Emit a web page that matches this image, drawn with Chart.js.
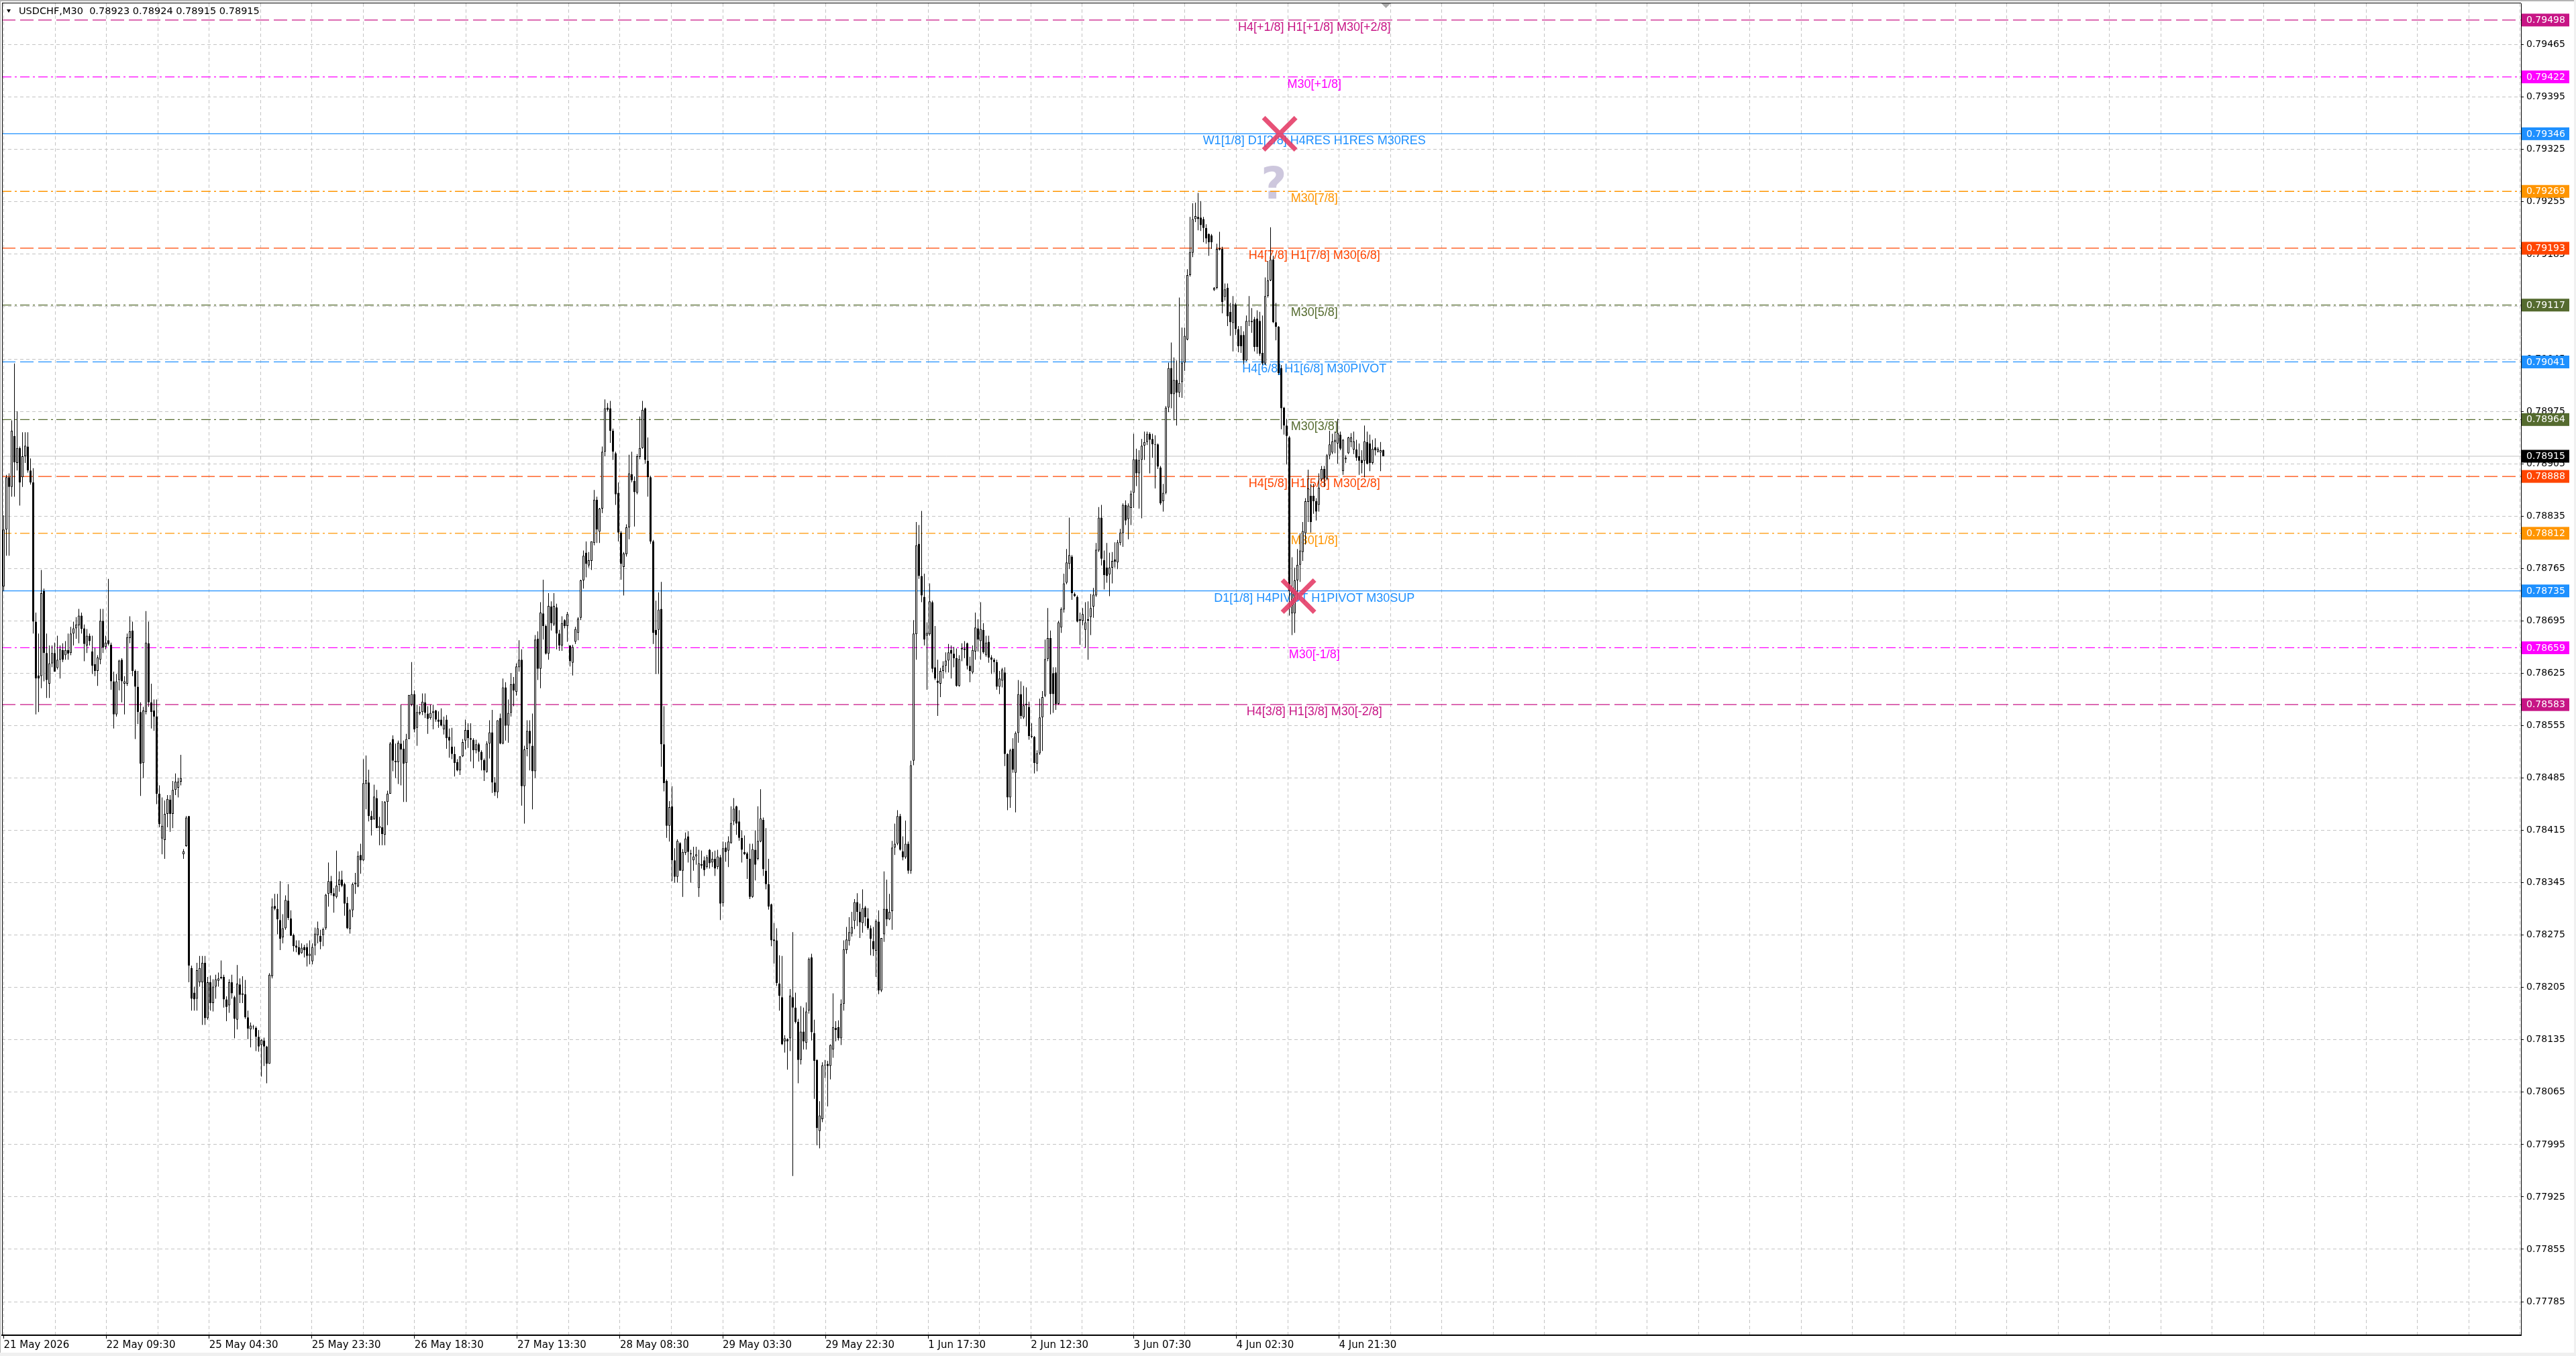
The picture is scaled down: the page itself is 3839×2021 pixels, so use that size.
<!DOCTYPE html>
<html lang="en">
<head>
<meta charset="UTF-8">
<title>USDCHF,M30</title>
<script src="https://cdn.jsdelivr.net/npm/chart.js"></script>
<style>
  html, body { margin: 0; padding: 0; background: #fff; overflow: hidden; }
  #wrap { position: relative; width: 3839px; height: 2021px; }
</style>
</head>
<body>
<div id="wrap"><canvas id="chart" width="3839" height="2021"></canvas></div>
<script>
// USDCHF M30 candles, one entry per bar (bar 0 = 21 May 2026 14:30)
const opens = [
  0.78741,0.78817,0.78887,0.78874,0.78942,0.78906,0.78926,0.78887,0.78915,0.78928,
  0.78896,0.78880,0.78694,0.78622,0.78621,0.78735,0.78652,0.78611,0.78638,0.78652,
  0.78632,0.78643,0.78656,0.78649,0.78656,0.78652,0.78678,0.78685,0.78689,0.78702,
  0.78685,0.78662,0.78675,0.78654,0.78637,0.78628,0.78643,0.78695,0.78660,0.78669,
  0.78663,0.78614,0.78570,0.78616,0.78643,0.78611,0.78611,0.78672,0.78682,0.78628,
  0.78607,0.78573,0.78505,0.78573,0.78665,0.78586,0.78575,0.78567,0.78464,0.78404,
  0.78402,0.78437,0.78456,0.78437,0.78469,0.78472,0.78480,0.78383,0.78394,0.78434,
  0.78231,0.78198,0.78190,0.78212,0.78212,0.78238,0.78164,0.78212,0.78184,0.78206,
  0.78214,0.78217,0.78219,0.78189,0.78181,0.78212,0.78192,0.78162,0.78209,0.78195,
  0.78196,0.78165,0.78149,0.78152,0.78151,0.78139,0.78128,0.78134,0.78126,0.78103,
  0.78220,0.78314,0.78310,0.78295,0.78272,0.78284,0.78321,0.78297,0.78275,0.78261,
  0.78259,0.78251,0.78259,0.78259,0.78247,0.78240,0.78261,0.78275,0.78274,0.78275,
  0.78284,0.78330,0.78347,0.78331,0.78326,0.78342,0.78349,0.78343,0.78318,0.78283,
  0.78308,0.78343,0.78340,0.78382,0.78375,0.78477,0.78479,0.78434,0.78430,0.78458,
  0.78418,0.78419,0.78409,0.78453,0.78464,0.78537,0.78506,0.78506,0.78531,0.78524,
  0.78505,0.78537,0.78583,0.78597,0.78552,0.78571,0.78573,0.78586,0.78571,0.78565,
  0.78572,0.78575,0.78563,0.78563,0.78550,0.78563,0.78540,0.78527,0.78517,0.78506,
  0.78495,0.78514,0.78535,0.78549,0.78538,0.78536,0.78522,0.78530,0.78520,0.78509,
  0.78493,0.78531,0.78546,0.78479,0.78466,0.78565,0.78531,0.78606,0.78555,0.78572,
  0.78611,0.78600,0.78633,0.78643,0.78474,0.78524,0.78548,0.78528,0.78494,0.78671,
  0.78631,0.78705,0.78688,0.78651,0.78714,0.78690,0.78713,0.78678,0.78662,0.78696,
  0.78688,0.78662,0.78639,0.78667,0.78679,0.78699,0.78749,0.78786,0.78769,0.78775,
  0.78799,0.78857,0.78814,0.78845,0.78921,0.78980,0.78979,0.78949,0.78919,0.78866,
  0.78813,0.78767,0.78784,0.78820,0.78891,0.78882,0.78866,0.78914,0.78926,0.78979,
  0.78909,0.78887,0.78801,0.78683,0.78683,0.78711,0.78530,0.78481,0.78421,0.78447,
  0.78375,0.78353,0.78398,0.78361,0.78385,0.78407,0.78384,0.78375,0.78380,0.78338,
  0.78368,0.78375,0.78366,0.78389,0.78372,0.78377,0.78366,0.78379,0.78318,0.78392,
  0.78388,0.78398,0.78427,0.78447,0.78427,0.78405,0.78386,0.78384,0.78377,0.78326,
  0.78389,0.78377,0.78400,0.78429,0.78361,0.78343,0.78316,0.78269,0.78268,0.78210,
  0.78192,0.78133,0.78136,0.78137,0.78192,0.78178,0.78159,0.78108,0.78146,0.78131,
  0.78174,0.78245,0.78144,0.78108,0.78013,0.78029,0.78101,0.78103,0.78100,0.78122,
  0.78151,0.78152,0.78137,0.78183,0.78255,0.78267,0.78277,0.78294,0.78319,0.78306,
  0.78291,0.78312,0.78297,0.78284,0.78267,0.78254,0.78293,0.78201,0.78276,0.78310,
  0.78296,0.78307,0.78392,0.78397,0.78434,0.78387,0.78379,0.78397,0.78361,0.78508,
  0.78677,0.78798,0.78755,0.78727,0.78675,0.78677,0.78720,0.78633,0.78615,0.78611,
  0.78628,0.78635,0.78642,0.78656,0.78651,0.78645,0.78608,0.78657,0.78658,0.78665,
  0.78635,0.78626,0.78654,0.78685,0.78668,0.78683,0.78649,0.78667,0.78646,0.78643,
  0.78640,0.78607,0.78615,0.78626,0.78517,0.78459,0.78524,0.78492,0.78545,0.78597,
  0.78566,0.78582,0.78580,0.78541,0.78540,0.78504,0.78518,0.78566,0.78595,0.78644,
  0.78672,0.78625,0.78626,0.78584,0.78686,0.78710,0.78746,0.78771,0.78781,0.78731,
  0.78727,0.78697,0.78695,0.78683,0.78697,0.78700,0.78714,0.78729,0.78789,0.78833,
  0.78776,0.78766,0.78757,0.78766,0.78777,0.78773,0.78799,0.78812,0.78850,0.78831,
  0.78846,0.78866,0.78911,0.78892,0.78910,0.78929,0.78934,0.78945,0.78938,0.78931,
  0.78931,0.78900,0.78855,0.78866,0.78980,0.79033,0.78998,0.79017,0.79000,0.79014,
  0.79040,0.79071,0.79157,0.79187,0.79232,0.79235,0.79234,0.79232,0.79220,0.79212,
  0.79210,0.79137,0.79140,0.79191,0.79192,0.79128,0.79140,0.79108,0.79093,0.79118,
  0.79085,0.79077,0.79077,0.79043,0.79095,0.79094,0.79098,0.79099,0.79096,0.79053,
  0.79039,0.79129,0.79150,0.79178,0.79094,0.79088,0.79033,0.78980,0.78956,0.78940,
  0.78705,0.78705,0.78749,0.78770,0.78787,0.78812,0.78854,0.78862,0.78862,0.78855,
  0.78850,0.78884,0.78898,0.78885,0.78916,0.78920,0.78934,0.78932,0.78944,0.78895,
  0.78911,0.78919,0.78934,0.78924,0.78924,0.78915,0.78910,0.78909,0.78934,0.78932,
  0.78906,0.78927,0.78921,0.78920,0.78923
];
const highs = [
  0.78836,0.78890,0.78892,0.78963,0.79039,0.78975,0.78928,0.78947,0.78947,0.78947,
  0.78912,0.78899,0.78706,0.78678,0.78763,0.78738,0.78678,0.78662,0.78662,0.78666,
  0.78675,0.78662,0.78665,0.78668,0.78678,0.78687,0.78694,0.78700,0.78711,0.78706,
  0.78690,0.78684,0.78678,0.78675,0.78659,0.78649,0.78711,0.78711,0.78675,0.78751,
  0.78666,0.78627,0.78624,0.78643,0.78645,0.78621,0.78678,0.78701,0.78694,0.78630,
  0.78628,0.78586,0.78580,0.78708,0.78694,0.78611,0.78590,0.78590,0.78475,0.78459,
  0.78455,0.78462,0.78462,0.78481,0.78491,0.78485,0.78516,0.78390,0.78434,0.78434,
  0.78234,0.78206,0.78238,0.78247,0.78247,0.78247,0.78219,0.78221,0.78216,0.78222,
  0.78225,0.78241,0.78222,0.78193,0.78216,0.78222,0.78194,0.78235,0.78217,0.78220,
  0.78215,0.78174,0.78158,0.78155,0.78153,0.78148,0.78136,0.78138,0.78127,0.78224,
  0.78324,0.78330,0.78330,0.78347,0.78303,0.78328,0.78343,0.78308,0.78277,0.78268,
  0.78268,0.78264,0.78262,0.78264,0.78268,0.78264,0.78285,0.78293,0.78282,0.78285,
  0.78330,0.78372,0.78354,0.78338,0.78388,0.78360,0.78361,0.78345,0.78326,0.78310,
  0.78345,0.78358,0.78387,0.78397,0.78510,0.78515,0.78496,0.78441,0.78476,0.78469,
  0.78433,0.78454,0.78454,0.78468,0.78533,0.78542,0.78531,0.78535,0.78583,0.78535,
  0.78544,0.78596,0.78640,0.78602,0.78583,0.78581,0.78598,0.78598,0.78581,0.78583,
  0.78583,0.78576,0.78574,0.78578,0.78567,0.78569,0.78551,0.78552,0.78527,0.78510,
  0.78514,0.78537,0.78563,0.78558,0.78558,0.78538,0.78536,0.78532,0.78522,0.78511,
  0.78534,0.78562,0.78576,0.78486,0.78562,0.78571,0.78618,0.78613,0.78590,0.78625,
  0.78620,0.78638,0.78669,0.78657,0.78528,0.78562,0.78562,0.78571,0.78676,0.78681,
  0.78720,0.78750,0.78690,0.78732,0.78721,0.78732,0.78718,0.78683,0.78701,0.78697,
  0.78707,0.78662,0.78663,0.78687,0.78700,0.78750,0.78789,0.78801,0.78787,0.78801,
  0.78870,0.78861,0.78846,0.78928,0.78991,0.78986,0.78989,0.78952,0.78921,0.78880,
  0.78815,0.78787,0.78824,0.78917,0.78921,0.78888,0.78918,0.78968,0.78989,0.78980,
  0.78940,0.78889,0.78803,0.78722,0.78733,0.78747,0.78581,0.78483,0.78454,0.78474,
  0.78391,0.78403,0.78399,0.78390,0.78412,0.78414,0.78389,0.78393,0.78393,0.78389,
  0.78388,0.78380,0.78382,0.78390,0.78386,0.78388,0.78389,0.78382,0.78400,0.78399,
  0.78407,0.78447,0.78458,0.78448,0.78442,0.78415,0.78408,0.78386,0.78397,0.78397,
  0.78415,0.78447,0.78470,0.78432,0.78418,0.78377,0.78317,0.78291,0.78284,0.78248,
  0.78247,0.78141,0.78137,0.78203,0.78279,0.78198,0.78163,0.78180,0.78178,0.78185,
  0.78245,0.78250,0.78162,0.78109,0.78053,0.78105,0.78108,0.78107,0.78129,0.78197,
  0.78160,0.78161,0.78189,0.78268,0.78286,0.78299,0.78306,0.78323,0.78331,0.78317,
  0.78336,0.78314,0.78311,0.78288,0.78286,0.78296,0.78308,0.78271,0.78360,0.78349,
  0.78330,0.78401,0.78424,0.78442,0.78437,0.78407,0.78428,0.78400,0.78508,0.78696,
  0.78827,0.78823,0.78842,0.78758,0.78693,0.78745,0.78722,0.78688,0.78643,0.78632,
  0.78641,0.78653,0.78664,0.78662,0.78660,0.78658,0.78649,0.78665,0.78668,0.78666,
  0.78647,0.78662,0.78706,0.78697,0.78720,0.78692,0.78675,0.78675,0.78649,0.78645,
  0.78643,0.78628,0.78632,0.78633,0.78518,0.78524,0.78538,0.78547,0.78616,0.78614,
  0.78608,0.78606,0.78587,0.78558,0.78541,0.78522,0.78591,0.78601,0.78670,0.78712,
  0.78682,0.78633,0.78633,0.78695,0.78713,0.78758,0.78791,0.78833,0.78783,0.78733,
  0.78729,0.78706,0.78712,0.78720,0.78721,0.78731,0.78739,0.78799,0.78847,0.78850,
  0.78789,0.78799,0.78786,0.78787,0.78800,0.78803,0.78818,0.78852,0.78856,0.78852,
  0.78869,0.78945,0.78925,0.78923,0.78938,0.78948,0.78948,0.78947,0.78945,0.78943,
  0.78932,0.78902,0.78878,0.78982,0.79040,0.79067,0.79047,0.79043,0.79127,0.79087,
  0.79087,0.79165,0.79235,0.79253,0.79254,0.79267,0.79256,0.79235,0.79225,0.79213,
  0.79212,0.79141,0.79199,0.79215,0.79195,0.79146,0.79146,0.79120,0.79129,0.79120,
  0.79089,0.79089,0.79082,0.79103,0.79129,0.79113,0.79101,0.79110,0.79108,0.79103,
  0.79154,0.79176,0.79221,0.79183,0.79120,0.79089,0.79037,0.78981,0.78965,0.78942,
  0.78780,0.78766,0.78791,0.78812,0.78827,0.78859,0.78897,0.78878,0.78878,0.78859,
  0.78892,0.78902,0.78902,0.78918,0.78949,0.78945,0.78948,0.78965,0.78948,0.78938,
  0.78916,0.78941,0.78946,0.78948,0.78937,0.78932,0.78923,0.78956,0.78948,0.78944,
  0.78937,0.78939,0.78927,0.78934,0.78924
];
const lows = [
  0.78735,0.78782,0.78782,0.78861,0.78861,0.78896,0.78849,0.78874,0.78906,0.78893,
  0.78877,0.78678,0.78570,0.78573,0.78605,0.78614,0.78592,0.78592,0.78633,0.78627,
  0.78630,0.78618,0.78640,0.78643,0.78643,0.78649,0.78662,0.78671,0.78665,0.78678,
  0.78641,0.78652,0.78662,0.78624,0.78621,0.78608,0.78637,0.78652,0.78657,0.78662,
  0.78603,0.78551,0.78567,0.78602,0.78586,0.78570,0.78608,0.78665,0.78621,0.78537,
  0.78557,0.78461,0.78485,0.78570,0.78580,0.78551,0.78548,0.78450,0.78419,0.78383,
  0.78377,0.78419,0.78413,0.78418,0.78462,0.78459,0.78475,0.78377,0.78393,0.78212,
  0.78174,0.78174,0.78174,0.78206,0.78155,0.78155,0.78162,0.78174,0.78173,0.78190,
  0.78206,0.78216,0.78178,0.78160,0.78171,0.78190,0.78137,0.78149,0.78184,0.78184,
  0.78163,0.78136,0.78125,0.78149,0.78120,0.78119,0.78086,0.78100,0.78077,0.78103,
  0.78217,0.78308,0.78276,0.78255,0.78264,0.78282,0.78295,0.78274,0.78253,0.78252,
  0.78248,0.78250,0.78245,0.78233,0.78236,0.78236,0.78248,0.78264,0.78256,0.78260,
  0.78282,0.78313,0.78328,0.78305,0.78324,0.78333,0.78339,0.78301,0.78283,0.78277,
  0.78299,0.78330,0.78339,0.78357,0.78374,0.78443,0.78427,0.78408,0.78429,0.78418,
  0.78395,0.78395,0.78395,0.78422,0.78464,0.78494,0.78485,0.78477,0.78475,0.78453,
  0.78453,0.78537,0.78581,0.78546,0.78528,0.78569,0.78569,0.78565,0.78544,0.78563,
  0.78550,0.78560,0.78552,0.78554,0.78543,0.78524,0.78512,0.78510,0.78487,0.78494,
  0.78489,0.78513,0.78523,0.78525,0.78507,0.78498,0.78518,0.78507,0.78495,0.78481,
  0.78492,0.78511,0.78465,0.78461,0.78458,0.78530,0.78530,0.78535,0.78532,0.78567,
  0.78581,0.78595,0.78627,0.78448,0.78424,0.78514,0.78495,0.78443,0.78485,0.78616,
  0.78605,0.78670,0.78650,0.78643,0.78682,0.78688,0.78657,0.78655,0.78655,0.78685,
  0.78667,0.78634,0.78622,0.78664,0.78669,0.78696,0.78738,0.78753,0.78766,0.78763,
  0.78796,0.78799,0.78799,0.78839,0.78915,0.78975,0.78933,0.78910,0.78850,0.78801,
  0.78750,0.78729,0.78781,0.78804,0.78880,0.78821,0.78864,0.78911,0.78925,0.78905,
  0.78861,0.78798,0.78664,0.78624,0.78624,0.78500,0.78467,0.78405,0.78400,0.78347,
  0.78345,0.78345,0.78361,0.78326,0.78382,0.78372,0.78345,0.78361,0.78369,0.78326,
  0.78364,0.78354,0.78364,0.78364,0.78366,0.78354,0.78363,0.78295,0.78313,0.78373,
  0.78366,0.78397,0.78422,0.78409,0.78401,0.78372,0.78382,0.78350,0.78323,0.78325,
  0.78348,0.78375,0.78399,0.78354,0.78336,0.78309,0.78260,0.78237,0.78207,0.78174,
  0.78128,0.78118,0.78095,0.78120,0.77953,0.78157,0.78077,0.78102,0.78122,0.78122,
  0.78170,0.78134,0.78056,0.77994,0.77990,0.78025,0.78084,0.78046,0.78082,0.78111,
  0.78133,0.78134,0.78128,0.78174,0.78250,0.78261,0.78273,0.78283,0.78287,0.78271,
  0.78278,0.78287,0.78282,0.78248,0.78247,0.78219,0.78196,0.78199,0.78266,0.78287,
  0.78295,0.78282,0.78382,0.78395,0.78388,0.78375,0.78377,0.78357,0.78357,0.78502,
  0.78643,0.78751,0.78720,0.78662,0.78603,0.78675,0.78626,0.78616,0.78568,0.78593,
  0.78618,0.78626,0.78626,0.78618,0.78633,0.78607,0.78607,0.78641,0.78645,0.78630,
  0.78613,0.78624,0.78643,0.78654,0.78643,0.78651,0.78647,0.78639,0.78624,0.78626,
  0.78603,0.78597,0.78606,0.78501,0.78442,0.78445,0.78492,0.78439,0.78532,0.78564,
  0.78564,0.78554,0.78536,0.78538,0.78491,0.78494,0.78516,0.78521,0.78593,0.78641,
  0.78570,0.78572,0.78576,0.78583,0.78679,0.78706,0.78744,0.78764,0.78723,0.78727,
  0.78693,0.78663,0.78689,0.78659,0.78643,0.78676,0.78699,0.78727,0.78787,0.78769,
  0.78737,0.78746,0.78728,0.78745,0.78766,0.78764,0.78796,0.78794,0.78823,0.78804,
  0.78823,0.78846,0.78875,0.78845,0.78832,0.78910,0.78930,0.78892,0.78913,0.78872,
  0.78898,0.78850,0.78841,0.78864,0.78974,0.78979,0.78963,0.78956,0.78994,0.78993,
  0.79029,0.79070,0.79155,0.79181,0.79228,0.79217,0.79216,0.79201,0.79199,0.79183,
  0.79192,0.79136,0.79138,0.79190,0.79106,0.79123,0.79089,0.79076,0.79055,0.79077,
  0.79054,0.79053,0.79038,0.79042,0.79089,0.79080,0.79055,0.79052,0.79049,0.79037,
  0.79037,0.79127,0.79149,0.79093,0.79070,0.79024,0.78951,0.78944,0.78904,0.78702,
  0.78676,0.78679,0.78723,0.78747,0.78775,0.78797,0.78827,0.78813,0.78838,0.78829,
  0.78841,0.78882,0.78874,0.78883,0.78911,0.78918,0.78919,0.78905,0.78923,0.78890,
  0.78906,0.78918,0.78927,0.78918,0.78909,0.78890,0.78892,0.78887,0.78904,0.78895,
  0.78904,0.78916,0.78920,0.78895,0.78915
];
const closes = [
  0.78817,0.78887,0.78874,0.78949,0.78907,0.78926,0.78880,0.78915,0.78929,0.78896,
  0.78880,0.78694,0.78618,0.78618,0.78732,0.78652,0.78616,0.78638,0.78652,0.78627,
  0.78643,0.78657,0.78643,0.78656,0.78651,0.78678,0.78685,0.78690,0.78702,0.78684,
  0.78664,0.78675,0.78668,0.78635,0.78628,0.78646,0.78695,0.78659,0.78666,0.78664,
  0.78614,0.78570,0.78614,0.78642,0.78614,0.78614,0.78673,0.78681,0.78628,0.78607,
  0.78573,0.78504,0.78575,0.78666,0.78586,0.78573,0.78567,0.78464,0.78423,0.78421,
  0.78437,0.78457,0.78437,0.78469,0.78480,0.78480,0.78485,0.78387,0.78432,0.78234,
  0.78190,0.78189,0.78228,0.78231,0.78238,0.78164,0.78212,0.78184,0.78206,0.78216,
  0.78217,0.78219,0.78189,0.78179,0.78212,0.78197,0.78163,0.78210,0.78195,0.78197,
  0.78165,0.78150,0.78154,0.78152,0.78139,0.78126,0.78135,0.78126,0.78103,0.78222,
  0.78313,0.78310,0.78296,0.78270,0.78284,0.78322,0.78298,0.78274,0.78260,0.78258,
  0.78249,0.78258,0.78255,0.78247,0.78250,0.78259,0.78277,0.78284,0.78266,0.78283,
  0.78329,0.78347,0.78331,0.78327,0.78341,0.78349,0.78341,0.78317,0.78284,0.78308,
  0.78343,0.78345,0.78381,0.78375,0.78478,0.78482,0.78434,0.78429,0.78460,0.78418,
  0.78421,0.78410,0.78453,0.78464,0.78531,0.78508,0.78508,0.78532,0.78523,0.78504,
  0.78537,0.78596,0.78597,0.78550,0.78573,0.78573,0.78587,0.78572,0.78564,0.78572,
  0.78574,0.78563,0.78560,0.78555,0.78556,0.78538,0.78535,0.78517,0.78505,0.78495,
  0.78514,0.78533,0.78549,0.78538,0.78536,0.78522,0.78530,0.78520,0.78509,0.78495,
  0.78531,0.78546,0.78479,0.78466,0.78562,0.78531,0.78606,0.78555,0.78572,0.78610,
  0.78602,0.78634,0.78643,0.78474,0.78523,0.78548,0.78531,0.78494,0.78670,0.78631,
  0.78706,0.78688,0.78651,0.78715,0.78692,0.78715,0.78678,0.78662,0.78692,0.78688,
  0.78704,0.78641,0.78660,0.78684,0.78698,0.78749,0.78782,0.78771,0.78776,0.78801,
  0.78857,0.78817,0.78845,0.78921,0.78979,0.78977,0.78949,0.78921,0.78864,0.78813,
  0.78771,0.78785,0.78820,0.78892,0.78883,0.78867,0.78915,0.78926,0.78977,0.78910,
  0.78887,0.78801,0.78679,0.78676,0.78710,0.78530,0.78478,0.78421,0.78446,0.78375,
  0.78353,0.78401,0.78361,0.78386,0.78404,0.78386,0.78383,0.78380,0.78383,0.78371,
  0.78370,0.78362,0.78379,0.78371,0.78377,0.78364,0.78380,0.78317,0.78391,0.78386,
  0.78400,0.78425,0.78444,0.78424,0.78405,0.78389,0.78383,0.78377,0.78326,0.78390,
  0.78369,0.78401,0.78431,0.78363,0.78343,0.78313,0.78268,0.78267,0.78211,0.78194,
  0.78129,0.78137,0.78133,0.78194,0.78178,0.78159,0.78108,0.78146,0.78133,0.78173,
  0.78243,0.78145,0.78107,0.78017,0.78034,0.78101,0.78101,0.78100,0.78128,0.78152,
  0.78148,0.78137,0.78183,0.78256,0.78269,0.78279,0.78286,0.78319,0.78306,0.78292,
  0.78311,0.78299,0.78284,0.78270,0.78256,0.78294,0.78201,0.78271,0.78310,0.78296,
  0.78306,0.78392,0.78397,0.78434,0.78389,0.78379,0.78397,0.78361,0.78502,0.78678,
  0.78796,0.78755,0.78729,0.78670,0.78679,0.78721,0.78631,0.78618,0.78612,0.78628,
  0.78635,0.78642,0.78653,0.78651,0.78645,0.78608,0.78644,0.78659,0.78656,0.78635,
  0.78628,0.78656,0.78686,0.78670,0.78684,0.78653,0.78666,0.78646,0.78643,0.78640,
  0.78607,0.78618,0.78630,0.78517,0.78459,0.78522,0.78496,0.78545,0.78597,0.78568,
  0.78582,0.78584,0.78541,0.78540,0.78505,0.78518,0.78566,0.78593,0.78644,0.78672,
  0.78597,0.78597,0.78584,0.78693,0.78711,0.78745,0.78773,0.78783,0.78732,0.78728,
  0.78694,0.78695,0.78704,0.78693,0.78695,0.78712,0.78730,0.78790,0.78833,0.78778,
  0.78756,0.78755,0.78766,0.78775,0.78774,0.78800,0.78813,0.78850,0.78829,0.78849,
  0.78865,0.78911,0.78892,0.78910,0.78929,0.78934,0.78945,0.78937,0.78931,0.78930,
  0.78901,0.78852,0.78866,0.78980,0.79033,0.78998,0.79017,0.79000,0.79013,0.79040,
  0.79076,0.79157,0.79188,0.79232,0.79236,0.79232,0.79224,0.79220,0.79206,0.79201,
  0.79201,0.79140,0.79192,0.79193,0.79121,0.79138,0.79102,0.79094,0.79118,0.79085,
  0.79062,0.79062,0.79043,0.79096,0.79096,0.79096,0.79061,0.79061,0.79052,0.79039,
  0.79129,0.79150,0.79178,0.79094,0.79088,0.79026,0.78979,0.78956,0.78942,0.78735,
  0.78735,0.78749,0.78770,0.78789,0.78815,0.78855,0.78872,0.78827,0.78855,0.78841,
  0.78873,0.78898,0.78885,0.78916,0.78931,0.78935,0.78937,0.78946,0.78925,0.78937,
  0.78913,0.78940,0.78940,0.78935,0.78913,0.78909,0.78906,0.78935,0.78905,0.78906,
  0.78925,0.78923,0.78925,0.78923,0.78915
];

// time axis labels, one every other grid line
const xLabels = ['21 May 2026', '22 May 09:30', '25 May 04:30', '25 May 23:30', '26 May 18:30',
  '27 May 13:30', '28 May 08:30', '29 May 03:30', '29 May 22:30', '1 Jun 17:30',
  '2 Jun 12:30', '3 Jun 07:30', '4 Jun 02:30', '4 Jun 21:30'];

// price axis labels
const yTicks = [0.79465, 0.79395, 0.79325, 0.79255, 0.79185, 0.79115, 0.79045, 0.78975,
  0.78905, 0.78835, 0.78765, 0.78695, 0.78625, 0.78555, 0.78485, 0.78415, 0.78345,
  0.78275, 0.78205, 0.78135, 0.78065, 0.77995, 0.77925, 0.77855, 0.77785];

// murrey math levels
const levelPrices = [0.79498, 0.79422, 0.79346, 0.79269, 0.79193, 0.79117, 0.79041,
  0.78964, 0.78888, 0.78812, 0.78735, 0.78659, 0.78583];
const levelNames = ['H4[+1/8] H1[+1/8] M30[+2/8]', 'M30[+1/8]', 'W1[1/8] D1[2/8] H4RES H1RES M30RES',
  'M30[7/8]', 'H4[7/8] H1[7/8] M30[6/8]', 'M30[5/8]', 'H4[6/8] H1[6/8] M30PIVOT', 'M30[3/8]',
  'H4[5/8] H1[5/8] M30[2/8]', 'M30[1/8]', 'D1[1/8] H4PIVOT H1PIVOT M30SUP', 'M30[-1/8]',
  'H4[3/8] H1[3/8] M30[-2/8]'];

// objects on the chart (bar index, price)
const crossBars = [475.4, 482.4];
const crossPrices = [0.79346, 0.78728];
const questionBar = 473.2;
const questionPrice = 0.79275;
const labelBar = 488.3;

// ---- styles ----
const DASH = [20, 7];
const DASHDOT = [14, 5, 3, 5];
const SOLID = [];
const levelStyles = [
  {color: '#C71585', dash: DASH},
  {color: '#FF00FF', dash: DASHDOT},
  {color: '#1E90FF', dash: SOLID},
  {color: '#FF9500', dash: DASHDOT},
  {color: '#FF4500', dash: DASH},
  {color: '#556B2F', dash: DASHDOT},
  {color: '#1E90FF', dash: DASH},
  {color: '#556B2F', dash: DASHDOT},
  {color: '#FF4500', dash: DASH},
  {color: '#FF9500', dash: DASHDOT},
  {color: '#1E90FF', dash: SOLID},
  {color: '#FF00FF', dash: DASHDOT},
  {color: '#C71585', dash: DASH}
];

const N = closes.length;
const X_MIN = -0.625, X_MAX = 937.875;
const Y_MIN = 0.777402, Y_MAX = 0.795203;
const GRID_STEP = 19.135;   // bars between vertical grid lines
const AXIS_FONT = {family: 'DejaVu Sans', size: 14};
const last = N - 1;
const curPrice = closes[last];

const wicks = closes.map((c, i) => ({x: i, y: [lows[i], highs[i]]}));
const bodies = closes.map((c, i) => ({x: i, y: [Math.min(opens[i], c), Math.max(opens[i], c)]}));

const levelSets = levelPrices.map((p, i) => ({
  type: 'line',
  data: [{x: X_MIN, y: p}, {x: X_MAX, y: p}],
  borderColor: levelStyles[i].color,
  borderWidth: 1.3,
  borderDash: levelStyles[i].dash,
  pointRadius: 0,
  order: 5
}));

const overlay = {
  id: 'overlay',
  beforeDatasetsDraw(chart) {
    const {ctx, scales: {x, y}} = chart;
    ctx.save();
    ctx.font = '18px "Liberation Sans", Arial, sans-serif';
    ctx.textAlign = 'center';
    ctx.textBaseline = 'middle';
    const cx = x.getPixelForValue(labelBar);
    levelPrices.forEach((p, i) => {
      ctx.fillStyle = levelStyles[i].color;
      ctx.fillText(levelNames[i], cx, y.getPixelForValue(p) + 11);
    });
    ctx.font = 'bold 66px "DejaVu Sans"';
    ctx.fillStyle = '#cdc7dd';
    ctx.fillText('?', x.getPixelForValue(questionBar), y.getPixelForValue(questionPrice));
    ctx.restore();
  },
  afterDraw(chart) {
    const {ctx, chartArea: a, scales: {x, y}} = chart;
    ctx.save();
    // window frame
    ctx.fillStyle = '#b4b4b4';
    ctx.fillRect(0, 0, 3839, 2);
    ctx.fillRect(0, 0, 1, 2021);
    ctx.fillStyle = '#f0f0f0';
    ctx.fillRect(0, 2016, 3839, 5);
    ctx.fillRect(3836, 0, 3, 2021);
    ctx.fillStyle = '#000';
    ctx.fillRect(a.left, 4, 1, a.bottom - 4);
    ctx.fillRect(a.left, 4, a.right - a.left, 1);

    // price tags on the right axis
    ctx.font = '14px "DejaVu Sans"';
    ctx.textAlign = 'left';
    ctx.textBaseline = 'middle';
    const tag = (p, bg) => {
      const yy = y.getPixelForValue(p);
      ctx.fillStyle = bg;
      ctx.fillRect(a.right + 1, yy - 9.5, 71, 19);
      ctx.fillStyle = '#fff';
      ctx.fillText(p.toFixed(5), a.right + 8, yy + 0.5);
    };
    levelPrices.forEach((p, i) => tag(p, levelStyles[i].color));
    tag(curPrice, '#000');

    // chart shift marker
    const sx = x.getPixelForValue(N);
    ctx.fillStyle = '#a8a8a8';
    ctx.beginPath();
    ctx.moveTo(sx - 7, 5); ctx.lineTo(sx + 7, 5); ctx.lineTo(sx, 12); ctx.closePath();
    ctx.fill();

    // title
    ctx.fillStyle = '#000';
    ctx.beginPath();
    ctx.moveTo(10, 14); ctx.lineTo(16, 14); ctx.lineTo(13, 19); ctx.closePath();
    ctx.fill();
    ctx.font = '14.5px "DejaVu Sans"';
    const ohlc = [opens[last], highs[last], lows[last], closes[last]].map(v => v.toFixed(5)).join(' ');
    ctx.fillText('USDCHF,M30  ' + ohlc, 28, 17);
    ctx.restore();
  }
};

new Chart(document.getElementById('chart'), {
  type: 'bar',
  data: {
    datasets: [
      {
        type: 'line',
        data: [{x: X_MIN, y: curPrice}, {x: X_MAX, y: curPrice}],
        borderColor: '#c0c0c0',
        borderWidth: 1,
        pointRadius: 0,
        order: 6
      },
      ...levelSets,
      {
        type: 'bar',
        data: wicks,
        backgroundColor: '#000',
        borderWidth: 0,
        barThickness: 1,
        grouped: false,
        inflateAmount: 0,
        minBarLength: 1,
        order: 3
      },
      {
        type: 'bar',
        data: bodies,
        backgroundColor: c => closes[c.dataIndex] >= opens[c.dataIndex] ? '#ffffff' : '#000000',
        borderColor: '#000',
        borderWidth: 1,
        borderSkipped: false,
        barThickness: 3,
        grouped: false,
        inflateAmount: 0,
        minBarLength: 1,
        order: 2
      },
      {
        type: 'line',
        data: crossBars.map((b, i) => ({x: b, y: crossPrices[i]})),
        showLine: false,
        pointStyle: 'crossRot',
        pointRadius: 34,
        pointBorderWidth: 7,
        pointBorderColor: 'rgba(228,62,104,0.9)',
        pointBackgroundColor: 'rgba(0,0,0,0)',
        order: 0
      }
    ]
  },
  options: {
    responsive: false,
    devicePixelRatio: 1,
    animation: false,
    events: [],
    layout: {autoPadding: false, padding: {left: 3, top: 5, right: 0, bottom: 0}},
    plugins: {legend: {display: false}, tooltip: {enabled: false}},
    scales: {
      x: {
        type: 'linear',
        position: 'bottom',
        min: X_MIN,
        max: X_MAX,
        offset: false,
        afterBuildTicks: s => {
          const t = [];
          for (let k = 0; k * GRID_STEP <= X_MAX; k++) t.push({value: k * GRID_STEP});
          s.ticks = t;
        },
        afterFit: s => { s.height = 31; s.paddingLeft = 0; s.paddingRight = 0; },
        ticks: {
          autoSkip: false,
          maxRotation: 0,
          minRotation: 0,
          align: 'start',
          padding: 1,
          color: '#000',
          font: {family: 'DejaVu Sans', size: 15},
          callback: (v, i) => (i % 2 === 0 ? (xLabels[i / 2] || '') : '')
        },
        grid: {
          offset: false,
          color: '#c4c4c4',
          lineWidth: 1,
          drawTicks: true,
          tickLength: 5,
          tickWidth: 1,
          tickBorderDash: [],
          tickColor: c => (c.index % 2 === 0 && c.index / 2 < xLabels.length ? '#000' : 'rgba(0,0,0,0)')
        },
        border: {display: true, color: '#000', width: 2, dash: [5, 4]}
      },
      y: {
        type: 'linear',
        position: 'right',
        min: Y_MIN,
        max: Y_MAX,
        afterBuildTicks: s => { s.ticks = yTicks.map(v => ({value: v})); },
        afterFit: s => { s.width = 82; s.paddingTop = 0; s.paddingBottom = 0; },
        ticks: {
          autoSkip: false,
          padding: 4,
          color: '#000',
          font: AXIS_FONT,
          callback: v => v.toFixed(5)
        },
        grid: {
          color: '#c4c4c4',
          lineWidth: 1,
          drawTicks: true,
          tickLength: 4,
          tickWidth: 1,
          tickBorderDash: [],
          tickColor: '#000'
        },
        border: {display: true, color: '#000', width: 1, dash: [5, 4]}
      }
    }
  },
  plugins: [overlay]
});
</script>
</body>
</html>
